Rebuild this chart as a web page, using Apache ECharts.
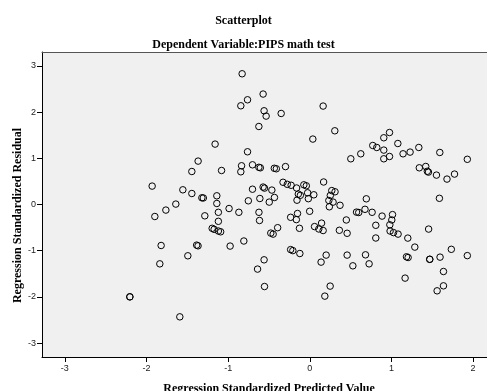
<!DOCTYPE html>
<html><head><meta charset="utf-8">
<script src="https://cdn.jsdelivr.net/npm/echarts@6/dist/echarts.min.js"></script>
<style>html,body{margin:0;padding:0;background:#fff}#c{width:487px;height:391px}</style>
</head><body><div id="c"></div>
<script>
const titleMain = 'Scatterplot';
const titleSub = 'Dependent Variable:PIPS math test';
const xAxisTitle = 'Regression Standardized Predicted Value';
const yAxisTitle = 'Regression Standardized Residual';
const xTicks = [-3, -2, -1, 0, 1, 2];
const yTicks = [-3, -2, -1, 0, 1, 2, 3];

// Regression standardized predicted values (x)
const predicted = [
 -0.829,-0.572,-0.763,-0.845,-0.560,-0.535,-0.351,-0.624,-1.160,-0.763,
 -1.368,-1.445,-1.081,-0.836,-0.845,-0.702,-0.624,-0.606,-0.435,-0.410,
 -1.931,-1.555,-1.445,-1.322,-1.304,-1.139,-1.641,-1.139,-0.702,-0.572,
 -0.555,-0.465,-0.753,-0.612,-0.433,-0.497,0.163,0.306,0.037,0.976,
 0.906,1.078,0.771,0.820,0.906,0.624,0.502,0.906,0.976,1.142,
 1.228,1.335,1.592,1.929,1.341,1.420,1.439,1.453,1.551,1.680,
 1.772,1.587,-0.298,-0.328,-0.276,-0.229,-0.162,-0.073,-0.043,0.169,
 -0.141,-0.116,-0.027,0.049,-0.157,-0.018,0.269,0.309,0.251,0.233,
 0.285,0.239,0.370,0.692,-1.763,-1.898,-1.286,-1.120,-1.120,-0.989,
 -0.869,-0.623,-0.616,-1.196,-1.172,-1.120,-1.092,-0.394,-0.478,-0.449,
 -1.821,-1.386,-1.369,-0.976,-0.808,-1.494,-1.837,-0.560,-0.640,-0.555,
 -2.204,-2.204,-1.592,-0.151,-0.235,-0.165,-0.002,-0.127,0.144,0.058,
 0.110,0.163,0.447,0.362,0.457,0.572,0.599,0.676,0.763,0.885,
 0.808,1.013,1.004,0.980,0.983,1.025,1.081,0.808,1.200,1.455,
 1.286,1.733,1.929,1.184,1.204,1.469,1.469,1.595,1.637,1.167,
 1.637,1.559,-0.235,-0.208,-0.122,0.200,0.138,0.457,0.527,0.682,
 0.726,0.249,0.184
];

// Regression standardized residuals (y)
const residual = [
 2.829,2.390,2.266,2.136,2.028,1.913,1.970,1.688,1.307,1.141,
 0.939,0.714,0.736,0.838,0.708,0.859,0.805,0.794,0.784,0.773,
 0.398,0.318,0.238,0.145,0.141,0.188,0.009,0.022,0.331,0.377,
 0.355,0.312,0.080,0.130,0.152,0.052,2.130,1.595,1.416,1.558,
 1.444,1.320,1.277,1.234,1.177,1.097,0.989,0.989,1.039,1.097,
 1.134,1.234,1.126,0.978,0.794,0.823,0.719,0.701,0.636,0.550,
 0.658,0.134,0.820,0.481,0.437,0.416,0.357,0.426,0.405,0.487,
 0.225,0.199,0.253,0.210,0.093,0.126,0.301,0.275,0.195,0.087,
 0.052,-0.050,-0.017,0.123,-0.121,-0.260,-0.245,-0.169,-0.364,-0.087,
 -0.169,-0.169,-0.346,-0.515,-0.537,-0.574,-0.591,-0.502,-0.619,-0.641,
 -0.887,-0.879,-0.894,-0.900,-0.790,-1.110,-1.284,-1.197,-1.398,-1.775,
 -1.998,-1.998,-2.431,-0.195,-0.277,-0.327,-0.147,-0.515,-0.403,-0.478,
 -0.530,-0.563,-0.335,-0.558,-0.623,-0.165,-0.173,-0.104,-0.169,-0.251,
 -0.450,-0.219,-0.335,-0.439,-0.574,-0.608,-0.641,-0.725,-0.727,-0.532,
 -0.922,-0.970,-1.106,-1.132,-1.147,-1.186,-1.186,-1.139,-1.450,-1.593,
 -1.760,-1.868,-0.976,-0.998,-1.061,-1.095,-1.247,-1.095,-1.327,-1.089,
 -1.284,-1.766,-1.983
];

const points = predicted.map((x, i) => [x, residual[i]]);

const chart = echarts.init(document.getElementById('c'), null, {renderer: 'canvas'});
const serif = '"Liberation Serif", "Times New Roman", serif';
const sans = '"Liberation Sans", Arial, sans-serif';
chart.setOption({
  animation: false,
  backgroundColor: '#ffffff',
  title: [
    {text: titleMain, left: 'center', top: 10, textStyle: {fontFamily: serif, fontWeight: 'bold', fontSize: 12, color: '#000'}},
    {text: titleSub, left: 'center', top: 34, textStyle: {fontFamily: serif, fontWeight: 'bold', fontSize: 12, color: '#000'}}
  ],
  grid: {left: 42, top: 52, right: 0, bottom: 34, containLabel: false, outerBoundsMode: 'none',
         show: true, backgroundColor: '#f0f0f0', borderWidth: 0},
  xAxis: [{
    type: 'value', min: -3.28, max: 2.17, position: 'bottom',
    name: xAxisTitle, nameLocation: 'middle', nameGap: 26, nameMoveOverlap: false,
    nameTextStyle: {fontFamily: serif, fontWeight: 'bold', fontSize: 12, color: '#000', padding: [0, 0, 0, 9]},
    axisLine: {show: true, onZero: false, lineStyle: {color: '#000', width: 1}},
    axisTick: {show: true, length: 5, customValues: xTicks, lineStyle: {color: '#000'}},
    axisLabel: {customValues: xTicks, margin: 7, fontFamily: sans, fontSize: 9, color: '#222'},
    splitLine: {show: false}
  }, {
    type: 'value', min: -3.28, max: 2.17, position: 'top',
    axisLine: {show: true, onZero: false, lineStyle: {color: '#555', width: 1}},
    axisTick: {show: false}, axisLabel: {show: false}, splitLine: {show: false}
  }],
  yAxis: {
    type: 'value', min: -3.3, max: 3.3,
    name: yAxisTitle, nameLocation: 'middle', nameGap: 18, nameRotate: 90, nameMoveOverlap: false,
    nameTextStyle: {fontFamily: serif, fontWeight: 'bold', fontSize: 12, color: '#000', padding: [0, 22, 0, 0]},
    axisLine: {show: true, onZero: false, lineStyle: {color: '#000', width: 1}},
    axisTick: {show: true, length: 5, customValues: yTicks, lineStyle: {color: '#000'}},
    axisLabel: {customValues: yTicks, margin: 6, fontFamily: sans, fontSize: 9, color: '#222'},
    splitLine: {show: false}
  },
  series: [{
    type: 'scatter', xAxisIndex: 0, data: points,
    symbol: 'circle', symbolSize: 6.5,
    itemStyle: {color: 'rgba(0,0,0,0)', borderColor: '#000', borderWidth: 1, opacity: 1},
    emphasis: {disabled: true}
  }]
});
</script>
</body></html>
